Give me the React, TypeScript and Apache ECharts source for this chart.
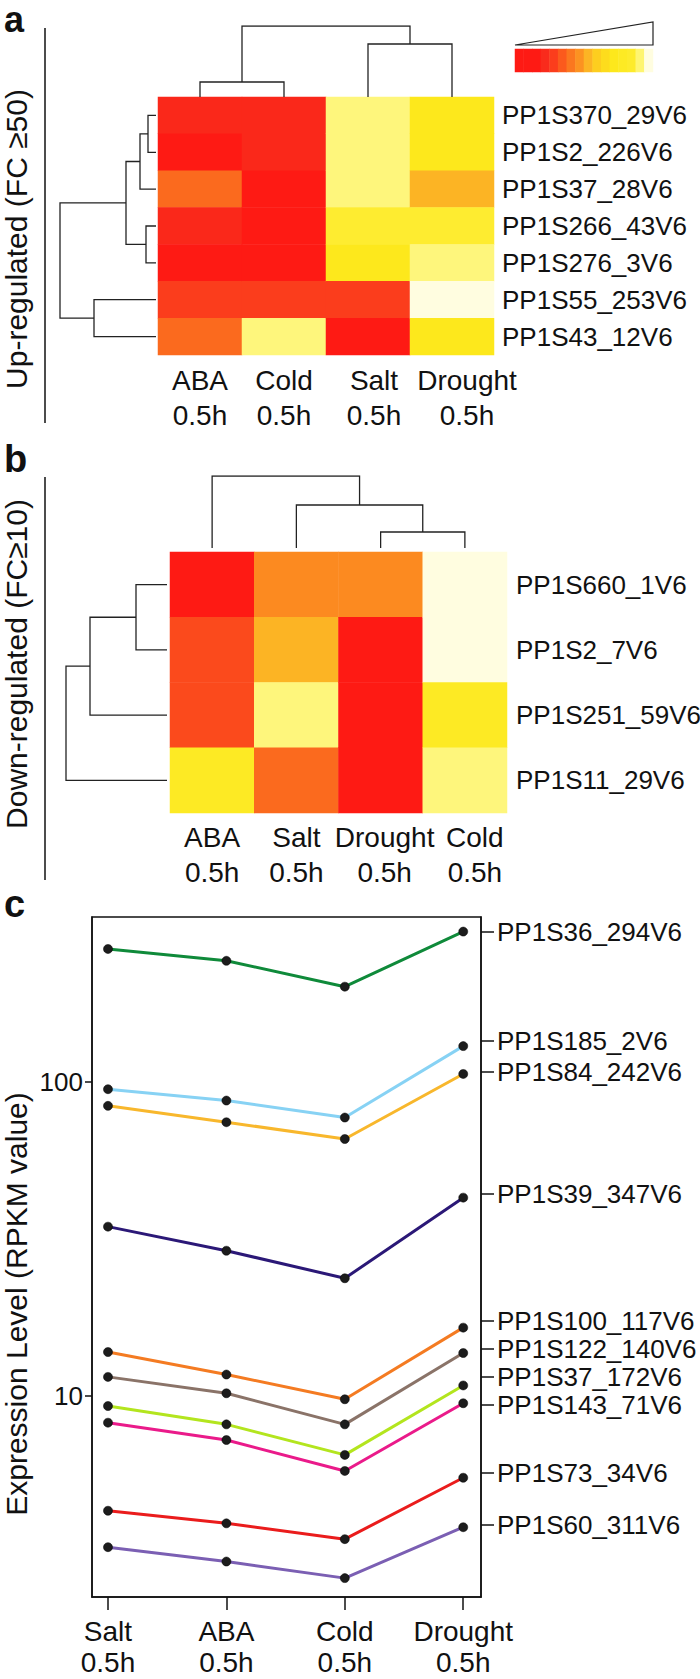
import React, { useEffect, useRef } from "react";
import * as echarts from "echarts";

const FONT = "'Liberation Sans', Arial, Helvetica, sans-serif";

// ---------- Panel a (up-regulated) ----------
const colsA = ["ABA", "Cold", "Salt", "Drought"];
const rowsA = ["PP1S370_29V6", "PP1S2_226V6", "PP1S37_28V6", "PP1S266_43V6", "PP1S276_3V6", "PP1S55_253V6", "PP1S43_12V6"];
// colour level per cell: 0 = red ... 1 = palest yellow
const abaA = [0.08, 0.0, 0.3, 0.08, 0.0, 0.18, 0.3];
const coldA = [0.08, 0.08, 0.0, 0.0, 0.0, 0.18, 0.9];
const saltA = [0.9, 0.9, 0.9, 0.75, 0.7, 0.18, 0.0];
const droughtA = [0.7, 0.7, 0.5, 0.75, 0.9, 1.0, 0.7];
// dendrograms: [childA, childB, height]; child >= 0 leaf index, child < 0 -> merge (-child-1)
const colTreeA = [[0, 1, 15], [2, 3, 53], [-1, -2, 71]];
const rowTreeA = [[0, 1, 8], [-1, 2, 16], [3, 4, 10], [-2, -3, 30], [5, 6, 62], [-4, -5, 96]];

// ---------- Panel b (down-regulated) ----------
const colsB = ["ABA", "Salt", "Drought", "Cold"];
const rowsB = ["PP1S660_1V6", "PP1S2_7V6", "PP1S251_59V6", "PP1S11_29V6"];
const abaB = [0.0, 0.22, 0.22, 0.72];
const saltB = [0.4, 0.5, 0.9, 0.3];
const droughtB = [0.4, 0.0, 0.0, 0.0];
const coldB = [1.0, 1.0, 0.72, 0.9];
const colTreeB = [[2, 3, 16], [1, -1, 43], [0, -2, 72]];
const rowTreeB = [[0, 1, 31], [-1, 2, 77], [-2, 3, 101]];

// colour legend steps
const legendSteps = [0, 0, 0, 0.1, 0.18, 0.26, 0.34, 0.42, 0.5, 0.58, 0.64, 0.7, 0.72, 0.74, 0.88, 1];
const heatColors = ["#fe1a14", "#f92b1c", "#fb421c", "#fb6a1e", "#fc8a20", "#fcb424", "#fdd41e", "#fde81c", "#fef043", "#fef67c", "#fffde0"];

// ---------- Panel c (expression lines) ----------
const timePoint = "0.5h";
const lineCats = ["Salt", "ABA", "Cold", "Drought"];
const genes = ["PP1S36_294V6", "PP1S185_2V6", "PP1S84_242V6", "PP1S39_347V6", "PP1S100_117V6", "PP1S122_140V6", "PP1S37_172V6", "PP1S143_71V6", "PP1S73_34V6", "PP1S60_311V6"];
const geneColors = ["#0f8a3a", "#87d2f4", "#f8b72c", "#2b1877", "#f47b22", "#8a7368", "#b3e51e", "#ea1a8a", "#ea1c1c", "#7b5fb3"];
const saltVals = [265, 94.8, 83.9, 34.6, 13.8, 11.5, 9.29, 8.22, 4.31, 3.30];
const abaVals = [243, 87.2, 74.4, 29.0, 11.7, 10.2, 8.12, 7.24, 3.93, 2.97];
const coldVals = [201, 77.0, 65.8, 23.7, 9.76, 8.12, 6.49, 5.77, 3.50, 2.63];
const droughtVals = [301, 130, 106, 42.8, 16.5, 13.7, 10.8, 9.48, 5.49, 3.82];
const yTicks = [10, 100];
// right-hand gene label tick positions (in RPKM, as placed in the figure)
const geneLabelPos = [300, 135, 107.6, 44, 17.34, 14.12, 11.49, 9.36, 5.68, 3.88];

function dendro(tree: number[][], orient: "top" | "left") {
  const pos: number[] = [];
  const hts: number[] = [];
  const child = (c: number) => (c >= 0 ? [c, 0] : [pos[-c - 1], hts[-c - 1]]);
  return tree.map(([a, b, h], i) => {
    const [pa, ha] = child(a);
    const [pb, hb] = child(b);
    pos[i] = (pa + pb) / 2;
    hts[i] = h;
    const pts = [[pa, ha], [pa, h], [pb, h], [pb, hb]];
    return { coords: orient === "top" ? pts : pts.map(([p, v]) => [v, p]) };
  });
}

function heatData(cols: number[][]) {
  const out: number[][] = [];
  cols.forEach((col, j) => col.forEach((v, i) => out.push([j, i, v])));
  return out;
}

const maxH = (t: number[][]) => Math.max(...t.map((m) => m[2]));

// small label nudges (px to the right) seen in the reference
const nudge = (names: string[], shifts: Record<string, number>) =>
  names.map((n) => (shifts[n] ? { value: n, textStyle: { padding: [0, 0, 0, shifts[n] * 2] } } : n));

export default function App() {
  const ref = useRef<HTMLDivElement>(null);
  useEffect(() => {
    if (!ref.current) return;
    const chart = echarts.init(ref.current, undefined, { renderer: "svg" });
    const txt = "#111";
    const hidden = { show: false };
    const dendroLine = { color: "#222", width: 1.3, opacity: 1 };
    const catAxisLabel = (extra: any) => ({ color: txt, fontFamily: FONT, interval: 0, ...extra });
    const axLine = { show: true, onZero: false, lineStyle: { color: "#111", width: 1.5 } };

    const option: any = {
      animation: false,
      backgroundColor: "#fff",
      textStyle: { fontFamily: FONT },
      grid: [
        { left: 158, top: 97, width: 336, height: 258, outerBoundsMode: "none" },
        { left: 158, top: 26, width: 336, height: 71, outerBoundsMode: "none" },
        { left: 60, top: 97, width: 96, height: 258, outerBoundsMode: "none" },
        { left: 515, top: 49, width: 138, height: 23, outerBoundsMode: "none" },
        { left: 170, top: 552, width: 337, height: 261, outerBoundsMode: "none" },
        { left: 170, top: 476, width: 337, height: 72, outerBoundsMode: "none" },
        { left: 66, top: 552, width: 101, height: 261, outerBoundsMode: "none" },
        { left: 92, top: 917, width: 389, height: 680, show: true, borderColor: "#111", borderWidth: 1.5, outerBoundsMode: "none" },
      ],
      visualMap: {
        type: "continuous", min: 0, max: 1, show: false, seriesIndex: [0, 1, 2],
        inRange: { color: heatColors },
      },
      xAxis: [
        {
          type: "category", gridIndex: 0, data: nudge(colsA, { Salt: 6, Drought: 15 }),
          axisLine: hidden, axisTick: hidden, splitLine: hidden,
          axisLabel: catAxisLabel({ formatter: (v: string) => v + "\n" + timePoint, fontSize: 28, lineHeight: 35, margin: 8 }),
        },
        { type: "value", gridIndex: 1, min: -0.5, max: colsA.length - 0.5, show: false },
        { type: "value", gridIndex: 2, min: 0, max: maxH(rowTreeA), inverse: true, show: false },
        { type: "category", gridIndex: 3, data: legendSteps.map((_, i) => String(i)), show: false },
        {
          type: "category", gridIndex: 4, data: nudge(colsB, { Drought: 4, Cold: 10 }),
          axisLine: hidden, axisTick: hidden, splitLine: hidden,
          axisLabel: catAxisLabel({ formatter: (v: string) => v + "\n" + timePoint, fontSize: 28, lineHeight: 35, margin: 7 }),
        },
        { type: "value", gridIndex: 5, min: -0.5, max: colsB.length - 0.5, show: false },
        { type: "value", gridIndex: 6, min: 0, max: maxH(rowTreeB), inverse: true, show: false },
        {
          type: "value", gridIndex: 7, min: -0.135, max: 3.15,
          axisLine: axLine,
          splitLine: hidden,
          axisTick: { show: true, customValues: lineCats.map((_, i) => i), length: 13, lineStyle: { color: "#111", width: 1.5 } },
          axisLabel: {
            customValues: lineCats.map((_, i) => i),
            formatter: (v: number) => lineCats[Math.round(v)] + "\n" + timePoint,
            fontSize: 28, lineHeight: 31, margin: 19, color: txt, fontFamily: FONT,
          },
        },
      ],
      yAxis: [
        {
          type: "category", gridIndex: 0, data: rowsA, inverse: true, position: "right",
          axisLine: hidden, axisTick: hidden, splitLine: hidden,
          axisLabel: catAxisLabel({ fontSize: 26, margin: 8 }),
        },
        { type: "value", gridIndex: 1, min: 0, max: maxH(colTreeA), show: false },
        { type: "value", gridIndex: 2, min: -0.5, max: rowsA.length - 0.5, inverse: true, show: false },
        { type: "category", gridIndex: 3, data: ["0"], show: false },
        {
          type: "category", gridIndex: 4, data: rowsB, inverse: true, position: "right",
          axisLine: hidden, axisTick: hidden, splitLine: hidden,
          axisLabel: catAxisLabel({ fontSize: 26, margin: 9 }),
        },
        { type: "value", gridIndex: 5, min: 0, max: maxH(colTreeB), show: false },
        { type: "value", gridIndex: 6, min: -0.5, max: rowsB.length - 0.5, inverse: true, show: false },
        {
          type: "log", gridIndex: 7, logBase: 10, min: 2.29, max: 335,
          axisLine: axLine,
          splitLine: hidden, minorTick: hidden, minorSplitLine: hidden,
          axisTick: { show: true, customValues: yTicks, length: 7, lineStyle: { color: "#111", width: 1.5 } },
          axisLabel: { customValues: yTicks, fontSize: 26, margin: 9, color: txt, fontFamily: FONT, formatter: (v: number) => String(Math.round(v)) },
        },
        {
          type: "log", gridIndex: 7, logBase: 10, min: 2.29, max: 335, position: "right",
          axisLine: axLine,
          splitLine: hidden, minorTick: hidden, minorSplitLine: hidden,
          axisTick: { show: true, customValues: geneLabelPos, length: 13, lineStyle: { color: "#111", width: 1.5 } },
          axisLabel: {
            customValues: geneLabelPos, fontSize: 26, lineHeight: 24, margin: 16, color: txt, fontFamily: FONT,
            formatter: (v: number) => {
              let best = 0;
              geneLabelPos.forEach((p, i) => {
                if (Math.abs(Math.log(p) - Math.log(v)) < Math.abs(Math.log(geneLabelPos[best]) - Math.log(v))) best = i;
              });
              return genes[best];
            },
          },
        },
      ],
      series: [
        { type: "heatmap", xAxisIndex: 0, yAxisIndex: 0, data: heatData([abaA, coldA, saltA, droughtA]), silent: true, itemStyle: { borderWidth: 0 } },
        { type: "heatmap", xAxisIndex: 4, yAxisIndex: 4, data: heatData([abaB, saltB, droughtB, coldB]), silent: true, itemStyle: { borderWidth: 0 } },
        { type: "heatmap", xAxisIndex: 3, yAxisIndex: 3, data: legendSteps.map((v, i) => [i, 0, v]), silent: true, itemStyle: { borderWidth: 0 } },
        { type: "lines", coordinateSystem: "cartesian2d", xAxisIndex: 1, yAxisIndex: 1, polyline: true, silent: true, lineStyle: dendroLine, data: dendro(colTreeA, "top") },
        { type: "lines", coordinateSystem: "cartesian2d", xAxisIndex: 2, yAxisIndex: 2, polyline: true, silent: true, lineStyle: dendroLine, data: dendro(rowTreeA, "left") },
        { type: "lines", coordinateSystem: "cartesian2d", xAxisIndex: 5, yAxisIndex: 5, polyline: true, silent: true, lineStyle: dendroLine, data: dendro(colTreeB, "top") },
        { type: "lines", coordinateSystem: "cartesian2d", xAxisIndex: 6, yAxisIndex: 6, polyline: true, silent: true, lineStyle: dendroLine, data: dendro(rowTreeB, "left") },
        ...genes.map((g, k) => ({
          type: "line",
          name: g,
          xAxisIndex: 7,
          yAxisIndex: 7,
          data: [[0, saltVals[k]], [1, abaVals[k]], [2, coldVals[k]], [3, droughtVals[k]]],
          symbol: "circle",
          symbolSize: 9,
          silent: true,
          itemStyle: { color: "#1c1c1c", borderColor: "#000", borderWidth: 0.5 },
          lineStyle: { color: geneColors[k], width: 3 },
        })),
      ],
      graphic: [
        { type: "text", x: 4, y: 1, style: { text: "a", font: `bold 36px ${FONT}`, fill: "#111", verticalAlign: "top" } },
        { type: "text", x: 4, y: 459, style: { text: "b", font: `bold 38px ${FONT}`, fill: "#111", verticalAlign: "middle" } },
        { type: "text", x: 4, y: 904, style: { text: "c", font: `bold 38px ${FONT}`, fill: "#111", verticalAlign: "middle" } },
        { type: "line", shape: { x1: 45, y1: 28, x2: 45, y2: 423 }, style: { stroke: "#111", lineWidth: 1.5 } },
        { type: "line", shape: { x1: 45, y1: 477, x2: 45, y2: 880 }, style: { stroke: "#111", lineWidth: 1.5 } },
        { type: "text", x: 16, y: 239, rotation: Math.PI / 2, style: { text: "Up-regulated (FC \u226550)", font: `30px ${FONT}`, fill: "#111", align: "center", verticalAlign: "middle" } },
        { type: "text", x: 16, y: 664, rotation: Math.PI / 2, style: { text: "Down-regulated (FC\u226510)", font: `30px ${FONT}`, fill: "#111", align: "center", verticalAlign: "middle" } },
        { type: "text", x: 16, y: 1304, rotation: Math.PI / 2, style: { text: "Expression Level (RPKM value)", font: `30px ${FONT}`, fill: "#111", align: "center", verticalAlign: "middle" } },
        { type: "polygon", shape: { points: [[515, 45], [653, 22], [653, 45]] }, style: { fill: "none", stroke: "#222", lineWidth: 1.2 } },
      ],
    };
    chart.setOption(option);
    return () => chart.dispose();
  }, []);
  return <div ref={ref} style={{ position: "absolute", left: 0, top: 0, width: 700, height: 1679 }} />;
}
